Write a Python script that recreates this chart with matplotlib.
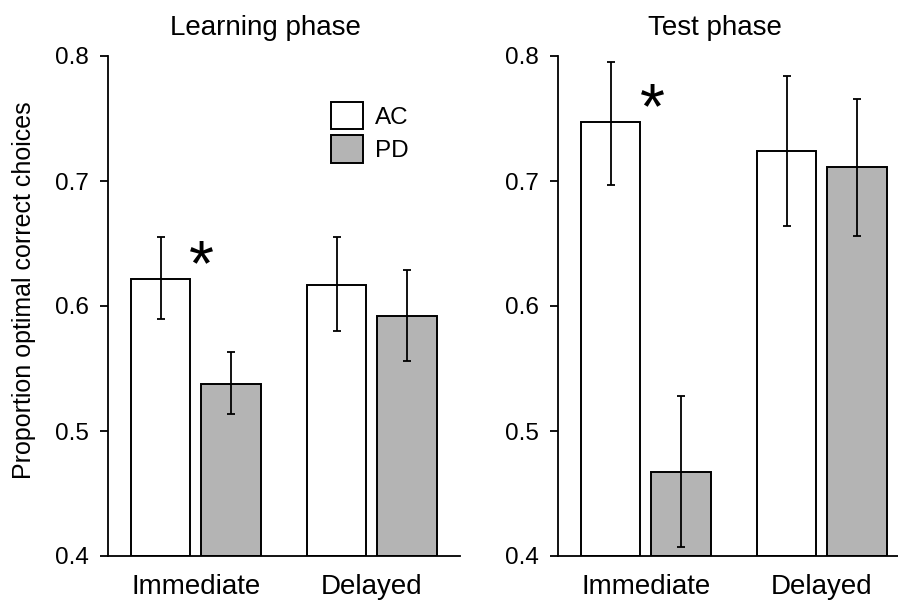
import matplotlib
matplotlib.use("Agg")
import matplotlib.pyplot as plt
from matplotlib.patches import Patch
import numpy as np

plt.rcParams['font.family'] = ['Liberation Sans', 'DejaVu Sans']

conditions = ["Immediate", "Delayed"]
groups = ["AC", "PD"]
panels = ["Learning phase", "Test phase"]
ylabel = "Proportion optimal correct choices"

learning_ac = [0.622, 0.617]
learning_ac_lo = [0.590, 0.580]
learning_ac_hi = [0.655, 0.655]
learning_pd = [0.538, 0.592]
learning_pd_lo = [0.514, 0.556]
learning_pd_hi = [0.563, 0.629]

test_ac = [0.747, 0.724]
test_ac_lo = [0.697, 0.664]
test_ac_hi = [0.795, 0.784]
test_pd = [0.467, 0.711]
test_pd_lo = [0.407, 0.656]
test_pd_hi = [0.528, 0.766]

star_learning = (1.03, 0.640)
star_test = (1.04, 0.766)

W, H = 898, 600
fig = plt.figure(figsize=(W / 100, H / 100), dpi=100)

ax_pos = [
    [107.7 / W, (H - 556) / H, 352.3 / W, 500 / H],
    [557.7 / W, (H - 556) / H, 352.3 / W, 500 / H],
]

data = [
    (learning_ac, learning_ac_lo, learning_ac_hi, learning_pd, learning_pd_lo, learning_pd_hi, star_learning),
    (test_ac, test_ac_lo, test_ac_hi, test_pd, test_pd_lo, test_pd_hi, star_test),
]

x = np.arange(1, len(conditions) + 1)
bw = 0.338
off = 0.2
gray = "#b4b4b4"

axes = []
for i, (ac, aclo, achi, pd_, pdlo, pdhi, star) in enumerate(data):
    ax = fig.add_axes(ax_pos[i])
    axes.append(ax)
    ac = np.array(ac); pd_ = np.array(pd_)
    ac_err = [ac - np.array(aclo), np.array(achi) - ac]
    pd_err = [pd_ - np.array(pdlo), np.array(pdhi) - pd_]
    ax.bar(x - off, ac - 0.4, bw, bottom=0.4, color="white", edgecolor="black", linewidth=1.4, zorder=2)
    ax.bar(x + off, pd_ - 0.4, bw, bottom=0.4, color=gray, edgecolor="black", linewidth=1.4, zorder=2)
    ax.errorbar(x - off, ac, yerr=ac_err, fmt="none", ecolor="black", elinewidth=1.3, capsize=3, capthick=1.3, zorder=3)
    ax.errorbar(x + off, pd_, yerr=pd_err, fmt="none", ecolor="black", elinewidth=1.3, capsize=3, capthick=1.3, zorder=3)
    ax.annotate("*", xy=star, xycoords="data", xytext=(0, -9), textcoords="offset points",
                fontsize=46, ha="center", va="center", zorder=4)
    ax.set_xlim(0.5, 2.5)
    ax.set_ylim(0.4, 0.8)
    ax.set_yticks([0.4, 0.5, 0.6, 0.7, 0.8])
    ax.set_yticklabels(["0.4", "0.5", "0.6", "0.7", "0.8"])
    ax.set_xticks(x)
    ax.set_xticklabels(conditions)
    ax.tick_params(axis="x", length=0, labelsize=20, pad=13)
    ax.tick_params(axis="y", length=5.5, width=1.3, labelsize=17.5, pad=8, direction="out")
    for s in ["top", "right"]:
        ax.spines[s].set_visible(False)
    for s in ["left", "bottom"]:
        ax.spines[s].set_linewidth(1.3)
    ax.patch.set_visible(False)

fig.text(24 / W, 1 - 290 / H, ylabel, fontsize=18, rotation=90, ha="center", va="center")

fig.text(265 / W, 1 - 35 / H, panels[0], fontsize=20, ha="center", va="baseline")
fig.text(715 / W, 1 - 35 / H, panels[1], fontsize=20, ha="center", va="baseline")

handles = [Patch(facecolor="white", edgecolor="black", linewidth=1.4),
           Patch(facecolor=gray, edgecolor="black", linewidth=1.4)]
axes[0].legend(handles, groups, loc="upper left", bbox_to_anchor=(331 / W, 1 - 102 / H),
               bbox_transform=fig.transFigure, frameon=False, fontsize=17.5,
               handlelength=1.32, handleheight=1.35, handletextpad=0.5, labelspacing=0.25,
               borderpad=0, borderaxespad=0)

fig.savefig("out.png", dpi=100)
